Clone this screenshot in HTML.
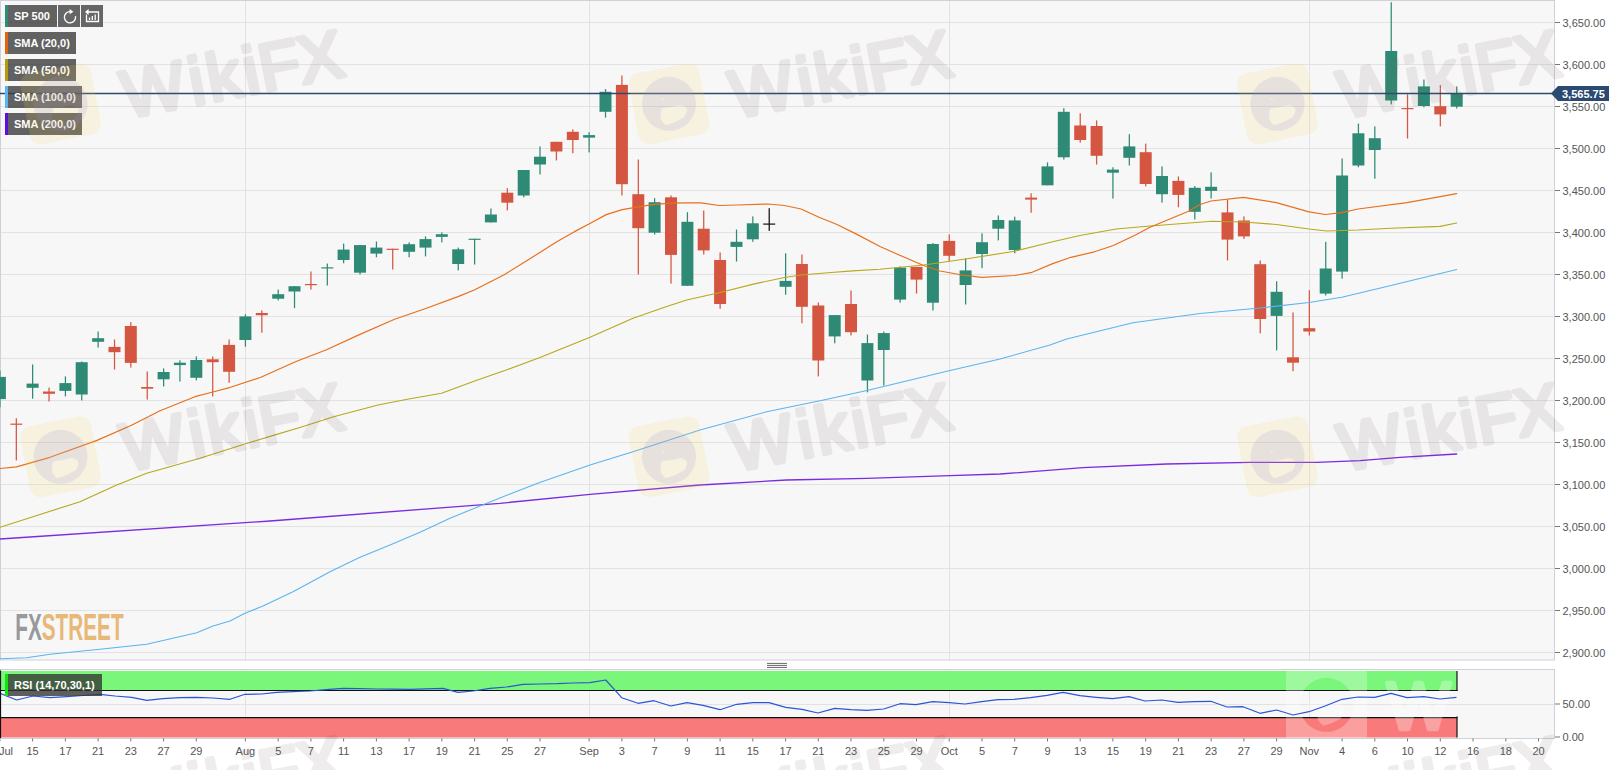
<!DOCTYPE html>
<html><head><meta charset="utf-8"><title>SP 500 chart</title>
<style>
html,body{margin:0;padding:0;background:#fff;}
body{width:1620px;height:770px;overflow:hidden;position:relative;font-family:"Liberation Sans",Arial,sans-serif;}
svg{position:absolute;left:0;top:0;display:block}
text{font-family:"Liberation Sans",Arial,sans-serif}
.ax{font-size:11px;fill:#555}
.lg{font-size:11px;font-weight:bold;fill:#fff}
</style></head><body>
<svg width="1620" height="770" viewBox="0 0 1620 770">
<defs>
<clipPath id="cpMain"><rect x="0" y="0" width="1555" height="660"/></clipPath>
<clipPath id="cpRsi"><rect x="0" y="669" width="1555" height="69.5"/></clipPath>
<g id="wm">
  <g transform="rotate(-11)">
    <rect x="-36" y="-36" width="72" height="72" rx="11" fill="#f5d060" fill-opacity="0.15"/>
  </g>
  <path fill="#9c96d4" fill-opacity="0.17" fill-rule="evenodd" d="M0 -27 A27 27 0 1 1 -0.01 -27 Z M-7 4.5 Q2 4 11 1.3 Q16 2 18.2 5.2 Q18 10 14.9 13.6 Q6 19 -3.2 21.4 Q-9 17 -8.4 11.7 Q-8.5 7 -7 4.5 Z M-7.5 -5.5 L-3.5 -4.8 L-6 -3.8 Z"/>
  <g opacity="0.108" transform="translate(66 14.5) rotate(-11)">
  <text x="0" y="0" dx="0 3 1.4 1.6 -1 -3" font-size="67" letter-spacing="2" fill="#6e5f5a" stroke="#6e5f5a" stroke-width="4.6" stroke-linejoin="round" stroke-linecap="round">WikiFX</text>
  </g>
</g>
</defs>

<rect x="0" y="0" width="1555" height="660" fill="#f7f7f7"/>
<line x1="0" y1="22.5" x2="1555" y2="22.5" stroke="#e2e2e2" stroke-width="1"/>
<line x1="0" y1="64.5" x2="1555" y2="64.5" stroke="#e2e2e2" stroke-width="1"/>
<line x1="0" y1="106.5" x2="1555" y2="106.5" stroke="#e2e2e2" stroke-width="1"/>
<line x1="0" y1="148.5" x2="1555" y2="148.5" stroke="#e2e2e2" stroke-width="1"/>
<line x1="0" y1="190.5" x2="1555" y2="190.5" stroke="#e2e2e2" stroke-width="1"/>
<line x1="0" y1="232.5" x2="1555" y2="232.5" stroke="#e2e2e2" stroke-width="1"/>
<line x1="0" y1="274.5" x2="1555" y2="274.5" stroke="#e2e2e2" stroke-width="1"/>
<line x1="0" y1="316.5" x2="1555" y2="316.5" stroke="#e2e2e2" stroke-width="1"/>
<line x1="0" y1="358.5" x2="1555" y2="358.5" stroke="#e2e2e2" stroke-width="1"/>
<line x1="0" y1="400.5" x2="1555" y2="400.5" stroke="#e2e2e2" stroke-width="1"/>
<line x1="0" y1="442.5" x2="1555" y2="442.5" stroke="#e2e2e2" stroke-width="1"/>
<line x1="0" y1="484.5" x2="1555" y2="484.5" stroke="#e2e2e2" stroke-width="1"/>
<line x1="0" y1="526.5" x2="1555" y2="526.5" stroke="#e2e2e2" stroke-width="1"/>
<line x1="0" y1="568.5" x2="1555" y2="568.5" stroke="#e2e2e2" stroke-width="1"/>
<line x1="0" y1="610.5" x2="1555" y2="610.5" stroke="#e2e2e2" stroke-width="1"/>
<line x1="0" y1="652.5" x2="1555" y2="652.5" stroke="#e2e2e2" stroke-width="1"/>
<line x1="245.5" y1="0" x2="245.5" y2="660" stroke="#e2e2e2" stroke-width="1"/>
<line x1="589.5" y1="0" x2="589.5" y2="660" stroke="#e2e2e2" stroke-width="1"/>
<line x1="949.5" y1="0" x2="949.5" y2="660" stroke="#e2e2e2" stroke-width="1"/>
<line x1="1309.5" y1="0" x2="1309.5" y2="660" stroke="#e2e2e2" stroke-width="1"/>
<rect x="0.5" y="0.5" width="1554" height="659.5" fill="none" stroke="#cfd0da" stroke-width="1"/>
<g clip-path="url(#cpMain)">
<rect x="-0.7" y="370.5" width="1.25" height="36.8" fill="#2f8a75"/>
<rect x="-6.1" y="376.9" width="12" height="22.2" fill="#2f8a75"/>
<rect x="15.7" y="418.3" width="1.25" height="42.1" fill="#d45640"/>
<rect x="10.3" y="423.6" width="12" height="1.2" fill="#d45640"/>
<rect x="32.0" y="364.5" width="1.25" height="34.2" fill="#2f8a75"/>
<rect x="26.6" y="383.6" width="12" height="4.2" fill="#2f8a75"/>
<rect x="48.4" y="387.6" width="1.25" height="13.9" fill="#d45640"/>
<rect x="43.0" y="391.5" width="12" height="2.3" fill="#d45640"/>
<rect x="64.8" y="376.4" width="1.25" height="20.0" fill="#2f8a75"/>
<rect x="59.4" y="383.1" width="12" height="7.8" fill="#2f8a75"/>
<rect x="81.1" y="361.5" width="1.25" height="38.9" fill="#2f8a75"/>
<rect x="75.7" y="362.2" width="12" height="32.3" fill="#2f8a75"/>
<rect x="97.5" y="331.5" width="1.25" height="16.1" fill="#2f8a75"/>
<rect x="92.1" y="338.2" width="12" height="3.6" fill="#2f8a75"/>
<rect x="113.9" y="339.5" width="1.25" height="30.0" fill="#d45640"/>
<rect x="108.5" y="346.9" width="12" height="5.3" fill="#d45640"/>
<rect x="130.2" y="322.2" width="1.25" height="45.4" fill="#d45640"/>
<rect x="124.8" y="326.0" width="12" height="36.9" fill="#d45640"/>
<rect x="146.6" y="371.5" width="1.25" height="28.1" fill="#d45640"/>
<rect x="141.2" y="387.0" width="12" height="1.7" fill="#d45640"/>
<rect x="163.0" y="368.4" width="1.25" height="18.1" fill="#2f8a75"/>
<rect x="157.6" y="372.0" width="12" height="7.3" fill="#2f8a75"/>
<rect x="179.3" y="360.4" width="1.25" height="21.1" fill="#2f8a75"/>
<rect x="173.9" y="362.7" width="12" height="2.4" fill="#2f8a75"/>
<rect x="195.7" y="356.4" width="1.25" height="24.0" fill="#2f8a75"/>
<rect x="190.3" y="360.0" width="12" height="17.8" fill="#2f8a75"/>
<rect x="212.1" y="356.4" width="1.25" height="40.0" fill="#d45640"/>
<rect x="206.7" y="359.3" width="12" height="2.9" fill="#d45640"/>
<rect x="228.5" y="339.5" width="1.25" height="43.2" fill="#d45640"/>
<rect x="223.1" y="344.9" width="12" height="26.9" fill="#d45640"/>
<rect x="244.8" y="314.2" width="1.25" height="32.5" fill="#2f8a75"/>
<rect x="239.4" y="316.4" width="12" height="23.6" fill="#2f8a75"/>
<rect x="261.2" y="310.4" width="1.25" height="22.3" fill="#d45640"/>
<rect x="255.8" y="313.0" width="12" height="2.2" fill="#d45640"/>
<rect x="277.6" y="289.6" width="1.25" height="10.8" fill="#2f8a75"/>
<rect x="272.2" y="294.2" width="12" height="4.5" fill="#2f8a75"/>
<rect x="293.9" y="286.2" width="1.25" height="22.0" fill="#2f8a75"/>
<rect x="288.5" y="286.2" width="12" height="5.3" fill="#2f8a75"/>
<rect x="310.3" y="271.5" width="1.25" height="18.1" fill="#d45640"/>
<rect x="304.9" y="284.0" width="12" height="1.2" fill="#d45640"/>
<rect x="326.7" y="263.6" width="1.25" height="21.9" fill="#2f8a75"/>
<rect x="321.3" y="267.3" width="12" height="1.2" fill="#2f8a75"/>
<rect x="343.0" y="243.6" width="1.25" height="19.7" fill="#2f8a75"/>
<rect x="337.6" y="249.6" width="12" height="10.4" fill="#2f8a75"/>
<rect x="359.4" y="245.1" width="1.25" height="29.4" fill="#2f8a75"/>
<rect x="354.0" y="245.1" width="12" height="27.6" fill="#2f8a75"/>
<rect x="375.8" y="241.5" width="1.25" height="15.8" fill="#2f8a75"/>
<rect x="370.4" y="247.6" width="12" height="6.0" fill="#2f8a75"/>
<rect x="392.1" y="248.7" width="1.25" height="20.8" fill="#d45640"/>
<rect x="386.7" y="248.7" width="12" height="1.2" fill="#d45640"/>
<rect x="408.5" y="242.4" width="1.25" height="14.9" fill="#2f8a75"/>
<rect x="403.1" y="244.2" width="12" height="7.6" fill="#2f8a75"/>
<rect x="424.9" y="236.4" width="1.25" height="20.0" fill="#2f8a75"/>
<rect x="419.5" y="239.1" width="12" height="8.5" fill="#2f8a75"/>
<rect x="441.2" y="232.4" width="1.25" height="10.0" fill="#2f8a75"/>
<rect x="435.8" y="234.2" width="12" height="2.7" fill="#2f8a75"/>
<rect x="457.6" y="247.6" width="1.25" height="22.8" fill="#2f8a75"/>
<rect x="452.2" y="249.3" width="12" height="14.7" fill="#2f8a75"/>
<rect x="474.0" y="238.7" width="1.25" height="25.8" fill="#2f8a75"/>
<rect x="468.6" y="238.7" width="12" height="1.2" fill="#2f8a75"/>
<rect x="490.3" y="208.5" width="1.25" height="13.9" fill="#2f8a75"/>
<rect x="484.9" y="214.5" width="12" height="7.9" fill="#2f8a75"/>
<rect x="506.7" y="188.2" width="1.25" height="22.2" fill="#d45640"/>
<rect x="501.3" y="192.7" width="12" height="10.0" fill="#d45640"/>
<rect x="523.1" y="170.0" width="1.25" height="27.3" fill="#2f8a75"/>
<rect x="517.7" y="170.0" width="12" height="25.5" fill="#2f8a75"/>
<rect x="539.4" y="146.4" width="1.25" height="28.1" fill="#2f8a75"/>
<rect x="534.0" y="156.7" width="12" height="7.8" fill="#2f8a75"/>
<rect x="555.8" y="141.8" width="1.25" height="18.6" fill="#d45640"/>
<rect x="550.4" y="141.8" width="12" height="9.7" fill="#d45640"/>
<rect x="572.2" y="129.5" width="1.25" height="23.8" fill="#d45640"/>
<rect x="566.8" y="131.8" width="12" height="8.2" fill="#d45640"/>
<rect x="588.5" y="132.2" width="1.25" height="20.2" fill="#2f8a75"/>
<rect x="583.1" y="135.1" width="12" height="2.5" fill="#2f8a75"/>
<rect x="604.9" y="89.1" width="1.25" height="28.5" fill="#2f8a75"/>
<rect x="599.5" y="91.8" width="12" height="20.0" fill="#2f8a75"/>
<rect x="621.3" y="75.5" width="1.25" height="120.0" fill="#d45640"/>
<rect x="615.9" y="84.9" width="12" height="99.3" fill="#d45640"/>
<rect x="637.7" y="159.5" width="1.25" height="115.0" fill="#d45640"/>
<rect x="632.3" y="194.2" width="12" height="34.0" fill="#d45640"/>
<rect x="654.0" y="198.2" width="1.25" height="36.3" fill="#2f8a75"/>
<rect x="648.6" y="202.2" width="12" height="30.5" fill="#2f8a75"/>
<rect x="670.4" y="195.5" width="1.25" height="88.1" fill="#d45640"/>
<rect x="665.0" y="197.3" width="12" height="57.6" fill="#d45640"/>
<rect x="686.8" y="212.2" width="1.25" height="73.6" fill="#2f8a75"/>
<rect x="681.4" y="221.8" width="12" height="64.0" fill="#2f8a75"/>
<rect x="703.1" y="210.5" width="1.25" height="44.0" fill="#d45640"/>
<rect x="697.7" y="228.7" width="12" height="21.7" fill="#d45640"/>
<rect x="719.5" y="252.4" width="1.25" height="56.3" fill="#d45640"/>
<rect x="714.1" y="260.0" width="12" height="44.0" fill="#d45640"/>
<rect x="735.9" y="229.5" width="1.25" height="32.0" fill="#2f8a75"/>
<rect x="730.5" y="241.8" width="12" height="5.1" fill="#2f8a75"/>
<rect x="752.2" y="216.4" width="1.25" height="25.4" fill="#2f8a75"/>
<rect x="746.8" y="223.3" width="12" height="16.0" fill="#2f8a75"/>
<rect x="768.6" y="208.2" width="1.25" height="22.7" fill="#111111"/>
<rect x="763.2" y="223.5" width="12" height="1.2" fill="#111111"/>
<rect x="785.0" y="253.3" width="1.25" height="41.4" fill="#2f8a75"/>
<rect x="779.6" y="280.9" width="12" height="5.9" fill="#2f8a75"/>
<rect x="801.3" y="254.5" width="1.25" height="68.8" fill="#d45640"/>
<rect x="795.9" y="264.0" width="12" height="42.8" fill="#d45640"/>
<rect x="817.7" y="302.5" width="1.25" height="73.9" fill="#d45640"/>
<rect x="812.3" y="305.5" width="12" height="55.0" fill="#d45640"/>
<rect x="834.1" y="315.1" width="1.25" height="28.2" fill="#2f8a75"/>
<rect x="828.7" y="315.1" width="12" height="21.3" fill="#2f8a75"/>
<rect x="850.4" y="290.5" width="1.25" height="45.0" fill="#d45640"/>
<rect x="845.0" y="304.0" width="12" height="28.2" fill="#d45640"/>
<rect x="866.8" y="334.5" width="1.25" height="57.9" fill="#2f8a75"/>
<rect x="861.4" y="343.1" width="12" height="37.4" fill="#2f8a75"/>
<rect x="883.2" y="331.5" width="1.25" height="54.0" fill="#2f8a75"/>
<rect x="877.8" y="333.1" width="12" height="16.9" fill="#2f8a75"/>
<rect x="899.5" y="266.4" width="1.25" height="36.3" fill="#2f8a75"/>
<rect x="894.1" y="267.6" width="12" height="32.0" fill="#2f8a75"/>
<rect x="915.9" y="266.9" width="1.25" height="26.7" fill="#d45640"/>
<rect x="910.5" y="266.9" width="12" height="12.7" fill="#d45640"/>
<rect x="932.3" y="243.0" width="1.25" height="67.5" fill="#2f8a75"/>
<rect x="926.9" y="244.0" width="12" height="58.7" fill="#2f8a75"/>
<rect x="948.6" y="234.5" width="1.25" height="26.5" fill="#d45640"/>
<rect x="943.2" y="240.9" width="12" height="14.9" fill="#d45640"/>
<rect x="965.0" y="258.5" width="1.25" height="46.0" fill="#2f8a75"/>
<rect x="959.6" y="270.4" width="12" height="14.6" fill="#2f8a75"/>
<rect x="981.4" y="233.3" width="1.25" height="34.9" fill="#2f8a75"/>
<rect x="976.0" y="242.2" width="12" height="11.8" fill="#2f8a75"/>
<rect x="997.7" y="215.5" width="1.25" height="24.9" fill="#2f8a75"/>
<rect x="992.3" y="220.0" width="12" height="8.7" fill="#2f8a75"/>
<rect x="1014.1" y="216.7" width="1.25" height="36.6" fill="#2f8a75"/>
<rect x="1008.7" y="220.4" width="12" height="29.6" fill="#2f8a75"/>
<rect x="1030.5" y="193.3" width="1.25" height="19.4" fill="#d45640"/>
<rect x="1025.1" y="197.6" width="12" height="2.0" fill="#d45640"/>
<rect x="1046.9" y="162.4" width="1.25" height="22.9" fill="#2f8a75"/>
<rect x="1041.5" y="166.4" width="12" height="18.9" fill="#2f8a75"/>
<rect x="1063.2" y="108.2" width="1.25" height="51.3" fill="#2f8a75"/>
<rect x="1057.8" y="111.8" width="12" height="45.5" fill="#2f8a75"/>
<rect x="1079.6" y="113.3" width="1.25" height="29.4" fill="#d45640"/>
<rect x="1074.2" y="125.5" width="12" height="14.5" fill="#d45640"/>
<rect x="1096.0" y="120.4" width="1.25" height="44.1" fill="#d45640"/>
<rect x="1090.6" y="126.0" width="12" height="29.8" fill="#d45640"/>
<rect x="1112.3" y="167.3" width="1.25" height="31.3" fill="#2f8a75"/>
<rect x="1106.9" y="169.6" width="12" height="3.1" fill="#2f8a75"/>
<rect x="1128.7" y="134.2" width="1.25" height="31.3" fill="#2f8a75"/>
<rect x="1123.3" y="146.4" width="12" height="11.4" fill="#2f8a75"/>
<rect x="1145.1" y="143.6" width="1.25" height="42.8" fill="#d45640"/>
<rect x="1139.7" y="152.2" width="12" height="31.8" fill="#d45640"/>
<rect x="1161.4" y="166.4" width="1.25" height="36.3" fill="#2f8a75"/>
<rect x="1156.0" y="176.0" width="12" height="18.2" fill="#2f8a75"/>
<rect x="1177.8" y="176.4" width="1.25" height="30.9" fill="#d45640"/>
<rect x="1172.4" y="180.9" width="12" height="14.0" fill="#d45640"/>
<rect x="1194.2" y="186.0" width="1.25" height="33.5" fill="#2f8a75"/>
<rect x="1188.8" y="187.8" width="12" height="24.0" fill="#2f8a75"/>
<rect x="1210.5" y="172.4" width="1.25" height="26.1" fill="#2f8a75"/>
<rect x="1205.1" y="186.8" width="12" height="4.1" fill="#2f8a75"/>
<rect x="1226.9" y="199.6" width="1.25" height="60.8" fill="#d45640"/>
<rect x="1221.5" y="212.4" width="12" height="27.2" fill="#d45640"/>
<rect x="1243.3" y="216.4" width="1.25" height="22.6" fill="#d45640"/>
<rect x="1237.9" y="220.5" width="12" height="15.9" fill="#d45640"/>
<rect x="1259.6" y="260.4" width="1.25" height="72.9" fill="#d45640"/>
<rect x="1254.2" y="264.2" width="12" height="54.8" fill="#d45640"/>
<rect x="1276.0" y="281.3" width="1.25" height="69.1" fill="#2f8a75"/>
<rect x="1270.6" y="291.8" width="12" height="24.1" fill="#2f8a75"/>
<rect x="1292.4" y="312.4" width="1.25" height="58.9" fill="#d45640"/>
<rect x="1287.0" y="357.3" width="12" height="5.4" fill="#d45640"/>
<rect x="1308.7" y="290.2" width="1.25" height="45.3" fill="#d45640"/>
<rect x="1303.3" y="328.2" width="12" height="3.3" fill="#d45640"/>
<rect x="1325.1" y="241.8" width="1.25" height="53.7" fill="#2f8a75"/>
<rect x="1319.7" y="268.5" width="12" height="25.1" fill="#2f8a75"/>
<rect x="1341.5" y="158.5" width="1.25" height="120.2" fill="#2f8a75"/>
<rect x="1336.1" y="175.5" width="12" height="96.1" fill="#2f8a75"/>
<rect x="1357.8" y="123.6" width="1.25" height="43.7" fill="#2f8a75"/>
<rect x="1352.4" y="133.3" width="12" height="32.2" fill="#2f8a75"/>
<rect x="1374.2" y="126.4" width="1.25" height="52.3" fill="#2f8a75"/>
<rect x="1368.8" y="138.2" width="12" height="11.8" fill="#2f8a75"/>
<rect x="1390.6" y="2.2" width="1.25" height="102.2" fill="#2f8a75"/>
<rect x="1385.2" y="51.0" width="12" height="49.5" fill="#2f8a75"/>
<rect x="1406.9" y="94.3" width="1.25" height="44.2" fill="#d45640"/>
<rect x="1401.5" y="108.0" width="12" height="1.2" fill="#d45640"/>
<rect x="1423.3" y="79.6" width="1.25" height="27.7" fill="#2f8a75"/>
<rect x="1417.9" y="86.4" width="12" height="19.6" fill="#2f8a75"/>
<rect x="1439.7" y="85.2" width="1.25" height="41.2" fill="#d45640"/>
<rect x="1434.3" y="106.2" width="12" height="8.2" fill="#d45640"/>
<rect x="1456.1" y="86.4" width="1.25" height="22.1" fill="#2f8a75"/>
<rect x="1450.7" y="93.6" width="12" height="13.1" fill="#2f8a75"/>
</g>
<g clip-path="url(#cpMain)" fill="none" stroke-linejoin="round" stroke-linecap="round">
<polyline points="0.0,539.0 245.0,522.7 270.0,521.0 500.0,503.3 590.0,494.3 700.0,485.0 786.7,480.0 866.7,478.3 950.0,475.7 1000.0,474.0 1083.0,467.7 1166.7,464.0 1250.0,462.3 1316.7,462.3 1360.0,460.7 1400.0,457.3 1456.7,454.0" stroke="#7a2be2" stroke-width="1.3"/>
<polyline points="0.0,658.7 26.7,657.7 50.0,654.3 100.0,649.3 146.7,644.3 196.7,632.7 213.0,626.0 230.0,621.0 245.0,613.3 263.0,606.0 293.0,591.7 330.0,571.7 360.0,557.3 390.0,545.0 420.0,532.3 450.0,518.3 480.0,506.0 510.0,494.0 539.0,482.7 590.0,465.0 633.0,451.7 700.0,430.0 766.7,411.7 823.6,400.0 867.0,390.6 950.0,370.5 1000.0,359.0 1050.0,345.0 1066.7,339.0 1133.0,322.7 1200.0,313.5 1260.0,308.0 1309.0,302.5 1341.8,297.3 1391.0,285.5 1456.7,269.5" stroke="#5ab4f0" stroke-width="1.05"/>
<polyline points="0.0,527.3 33.0,516.7 80.0,501.7 116.7,485.0 146.7,473.3 200.0,458.3 245.6,443.8 270.0,436.4 300.7,427.2 333.6,416.7 378.0,405.0 408.7,399.0 441.5,393.2 476.7,380.3 507.0,369.8 540.0,357.5 590.0,337.3 633.0,318.3 664.5,307.3 686.7,300.0 719.0,292.7 755.5,283.6 784.5,277.5 801.0,275.0 828.0,272.7 852.7,270.9 880.0,269.3 923.6,265.0 965.5,259.0 1014.5,251.3 1052.7,241.8 1080.0,235.5 1116.0,229.0 1150.0,226.0 1157.0,225.5 1212.0,221.3 1243.6,222.0 1276.4,224.5 1309.0,229.0 1327.0,231.0 1358.0,230.0 1391.0,228.2 1440.0,226.4 1456.7,223.0" stroke="#b8a81e" stroke-width="1.15"/>
<polyline points="0.0,468.5 16.5,466.8 50.0,457.3 97.0,440.4 131.0,425.5 160.0,410.8 195.0,396.7 212.8,392.0 230.4,387.3 260.9,377.3 296.0,361.5 326.5,349.8 359.4,334.6 394.6,319.3 425.0,308.8 458.0,296.6 474.3,290.0 503.7,275.0 524.7,262.1 556.8,241.7 574.0,231.9 589.5,223.8 606.2,214.6 622.2,209.6 638.3,206.9 654.3,204.3 671.6,203.2 687.7,202.8 701.0,202.8 719.0,205.5 737.0,205.0 768.0,204.0 784.5,205.5 801.0,209.0 819.0,217.3 837.0,224.5 855.5,233.6 880.0,246.5 898.0,254.5 923.6,265.5 940.0,271.0 962.0,275.0 982.0,277.3 1014.5,275.5 1031.0,272.7 1052.7,263.6 1071.0,257.3 1094.5,251.8 1112.7,245.8 1134.5,235.5 1150.0,227.3 1188.0,211.5 1200.0,204.5 1211.0,201.0 1243.6,197.3 1276.4,202.7 1309.0,211.8 1325.5,214.5 1341.8,212.7 1358.0,209.0 1407.0,202.7 1456.7,193.6" stroke="#e8701a" stroke-width="1.2"/>
</g>
<line x1="0" y1="93.5" x2="1555" y2="93.5" stroke="#2b4a6e" stroke-width="1.3"/>
<line x1="1555" y1="22.5" x2="1560" y2="22.5" stroke="#777" stroke-width="1"/>
<text class="ax" x="1562.5" y="26.5">3,650.00</text>
<line x1="1555" y1="64.5" x2="1560" y2="64.5" stroke="#777" stroke-width="1"/>
<text class="ax" x="1562.5" y="68.5">3,600.00</text>
<line x1="1555" y1="106.5" x2="1560" y2="106.5" stroke="#777" stroke-width="1"/>
<text class="ax" x="1562.5" y="110.5">3,550.00</text>
<line x1="1555" y1="148.5" x2="1560" y2="148.5" stroke="#777" stroke-width="1"/>
<text class="ax" x="1562.5" y="152.5">3,500.00</text>
<line x1="1555" y1="190.5" x2="1560" y2="190.5" stroke="#777" stroke-width="1"/>
<text class="ax" x="1562.5" y="194.5">3,450.00</text>
<line x1="1555" y1="232.5" x2="1560" y2="232.5" stroke="#777" stroke-width="1"/>
<text class="ax" x="1562.5" y="236.5">3,400.00</text>
<line x1="1555" y1="274.5" x2="1560" y2="274.5" stroke="#777" stroke-width="1"/>
<text class="ax" x="1562.5" y="278.5">3,350.00</text>
<line x1="1555" y1="316.5" x2="1560" y2="316.5" stroke="#777" stroke-width="1"/>
<text class="ax" x="1562.5" y="320.5">3,300.00</text>
<line x1="1555" y1="358.5" x2="1560" y2="358.5" stroke="#777" stroke-width="1"/>
<text class="ax" x="1562.5" y="362.5">3,250.00</text>
<line x1="1555" y1="400.5" x2="1560" y2="400.5" stroke="#777" stroke-width="1"/>
<text class="ax" x="1562.5" y="404.5">3,200.00</text>
<line x1="1555" y1="442.5" x2="1560" y2="442.5" stroke="#777" stroke-width="1"/>
<text class="ax" x="1562.5" y="446.5">3,150.00</text>
<line x1="1555" y1="484.5" x2="1560" y2="484.5" stroke="#777" stroke-width="1"/>
<text class="ax" x="1562.5" y="488.5">3,100.00</text>
<line x1="1555" y1="526.5" x2="1560" y2="526.5" stroke="#777" stroke-width="1"/>
<text class="ax" x="1562.5" y="530.5">3,050.00</text>
<line x1="1555" y1="568.5" x2="1560" y2="568.5" stroke="#777" stroke-width="1"/>
<text class="ax" x="1562.5" y="572.5">3,000.00</text>
<line x1="1555" y1="610.5" x2="1560" y2="610.5" stroke="#777" stroke-width="1"/>
<text class="ax" x="1562.5" y="614.5">2,950.00</text>
<line x1="1555" y1="652.5" x2="1560" y2="652.5" stroke="#777" stroke-width="1"/>
<text class="ax" x="1562.5" y="656.5">2,900.00</text>
<path d="M1551 93.5 L1558 86 H1609 V101 H1558 Z" fill="#2b4a72"/>
<text x="1562" y="97.5" font-size="11" font-weight="bold" fill="#fff">3,565.75</text>
<rect x="5" y="5" width="52" height="22" fill="#3c3c3c" fill-opacity="0.8"/>
<rect x="5" y="5" width="3" height="22" fill="#2e8b76"/>
<text class="lg" x="14" y="20">SP 500</text>
<rect x="58" y="5" width="22" height="22" fill="#666"/>
<rect x="81" y="5" width="22" height="22" fill="#666"/>
<path d="M70.2 11.6 A5.6 5.6 0 1 0 75.5 16.2" fill="none" stroke="#fff" stroke-width="1.3"/>
<path d="M69.6 9 L73.4 11.8 L69.6 14.2 Z" fill="#fff"/>
<path d="M87 12 H98.5 V21.5 H86.5 V14.5" fill="none" stroke="#fff" stroke-width="1.3"/>
<path d="M85 12 L88.6 9 V15 Z" fill="#fff"/>
<path d="M89.5 20 V17.5 M92.3 20 V16 M95.2 20 V14.5" fill="none" stroke="#fff" stroke-width="1.3"/>
<rect x="5" y="32" width="71" height="22" fill="#3c3c3c" fill-opacity="0.8"/>
<rect x="5" y="32" width="3" height="22" fill="#e0650f"/>
<text class="lg" x="14" y="47">SMA (20,0)</text>
<rect x="5" y="59" width="71" height="22" fill="#3c3c3c" fill-opacity="0.8"/>
<rect x="5" y="59" width="3" height="22" fill="#b59a0a"/>
<text class="lg" x="14" y="74">SMA (50,0)</text>
<rect x="5" y="86" width="77" height="22" fill="#3c3c3c" fill-opacity="0.8"/>
<rect x="5" y="86" width="3" height="22" fill="#5ab4f0"/>
<text class="lg" x="14" y="101">SMA (100,0)</text>
<rect x="5" y="113" width="77" height="22" fill="#3c3c3c" fill-opacity="0.8"/>
<rect x="5" y="113" width="3" height="22" fill="#5a0ee0"/>
<text class="lg" x="14" y="128">SMA (200,0)</text>
<g transform="translate(15.3 640.4) scale(0.556 1)"><text x="0" y="0" font-size="37.3" font-weight="bold"><tspan fill="#96999d">FX</tspan><tspan fill="#e8b878">STREET</tspan></text></g>
<line x1="767" y1="663.4" x2="787" y2="663.4" stroke="#666" stroke-width="1"/>
<line x1="767" y1="665.4" x2="787" y2="665.4" stroke="#666" stroke-width="1"/>
<line x1="767" y1="667.4" x2="787" y2="667.4" stroke="#666" stroke-width="1"/>
<rect x="0" y="669" width="1555" height="69.5" fill="#f7f7f7"/>
<line x1="245.5" y1="669" x2="245.5" y2="738.5" stroke="#e2e2e2" stroke-width="1"/>
<line x1="589.5" y1="669" x2="589.5" y2="738.5" stroke="#e2e2e2" stroke-width="1"/>
<line x1="949.5" y1="669" x2="949.5" y2="738.5" stroke="#e2e2e2" stroke-width="1"/>
<line x1="1309.5" y1="669" x2="1309.5" y2="738.5" stroke="#e2e2e2" stroke-width="1"/>
<line x1="0" y1="704.5" x2="1555" y2="704.5" stroke="#e2e2e2" stroke-width="1"/>
<rect x="0" y="671" width="1457" height="19.5" fill="#7af77a"/>
<rect x="0" y="717.5" width="1457" height="20" fill="#f87a7a"/>
<line x1="0" y1="690.5" x2="1457.5" y2="690.5" stroke="#111" stroke-width="1.2"/>
<line x1="0" y1="717.6" x2="1457.5" y2="717.6" stroke="#111" stroke-width="1.2"/>
<line x1="1457" y1="671" x2="1457" y2="691" stroke="#111" stroke-width="1.2"/>
<line x1="1457" y1="716.5" x2="1457" y2="737.5" stroke="#111" stroke-width="1.2"/>
<g clip-path="url(#cpRsi)">
<path fill="#fff" fill-opacity="0.27" fill-rule="evenodd" transform="translate(1326.5 704.8)" d="M-40.5 -29.5 Q-40.5 -40.5 -29.5 -40.5 H29.5 Q40.5 -40.5 40.5 -29.5 V29.5 Q40.5 40.5 29.5 40.5 H-29.5 Q-40.5 40.5 -40.5 29.5 Z M0 -27 A27 27 0 1 1 -0.01 -27 Z M-19 -3 Q-2 -5 12 -2 Q18 1 18 6 Q17 11 14 14 Q6 19 -3 21 Q-9 17 -9 11 Q-9 7 -19 5 Z"/>
<g opacity="0.3"><text x="1387" y="729" font-size="67" fill="#fff" stroke="#fff" stroke-width="4.6" stroke-linejoin="round">W</text></g>
</g>
<polyline points="0.0,693.3 16.7,700.0 33.0,696.0 50.0,697.7 66.7,696.7 83.0,695.5 100.0,694.3 115.0,696.0 131.7,697.3 146.7,700.3 163.0,698.7 180.0,697.7 196.7,697.3 213.0,698.0 230.0,699.3 245.0,694.3 261.7,694.0 276.7,692.3 293.0,691.7 310.0,691.0 326.0,689.7 343.0,688.3 360.0,688.7 376.7,689.0 393.0,689.2 410.0,689.3 426.0,688.8 443.0,688.3 458.0,692.3 473.0,691.0 490.0,688.3 506.7,687.0 523.0,684.3 540.0,684.0 556.7,683.7 573.0,683.0 590.0,682.7 605.7,680.0 621.7,697.7 638.0,703.3 654.0,700.7 670.7,706.0 687.0,702.7 703.0,705.3 720.0,709.7 736.7,704.3 753.0,702.7 769.0,702.7 785.7,707.3 802.0,709.3 818.0,713.0 834.7,708.3 851.0,709.7 867.0,710.3 883.7,709.0 900.0,703.7 916.0,704.7 932.7,701.7 949.0,702.7 965.0,704.0 981.7,701.7 998.0,699.7 1014.0,699.3 1030.7,697.7 1047.0,695.3 1063.0,692.3 1080.0,695.7 1096.0,697.3 1112.7,698.7 1129.0,696.7 1145.0,701.0 1161.7,700.0 1178.0,702.3 1194.0,701.7 1210.7,701.3 1227.0,707.0 1243.0,706.7 1260.0,713.3 1276.7,710.0 1293.0,715.0 1309.0,711.7 1325.7,705.7 1342.0,699.3 1358.0,697.0 1374.7,697.3 1391.0,693.3 1407.0,697.7 1424.0,696.7 1440.0,699.0 1456.5,697.3" fill="none" stroke="#2a55d8" stroke-width="1.2" stroke-linejoin="round"/>
<rect x="0.5" y="669.5" width="1554" height="69.0" fill="none" stroke="#cfd0da" stroke-width="1"/>
<line x1="0.5" y1="670.5" x2="0.5" y2="738" stroke="#111" stroke-width="1.2"/>
<rect x="5" y="674" width="97" height="22" fill="#333" fill-opacity="0.78"/>
<rect x="5" y="674" width="3" height="22" fill="#0fe60f"/>
<text class="lg" x="14" y="689">RSI (14,70,30,1)</text>
<line x1="1555" y1="704" x2="1560" y2="704" stroke="#777" stroke-width="1"/>
<text class="ax" x="1562.5" y="708">50.00</text>
<line x1="1555" y1="737" x2="1560" y2="737" stroke="#777" stroke-width="1"/>
<text class="ax" x="1562.5" y="741">0.00</text>
<line x1="-0.1" y1="738.5" x2="-0.1" y2="741.5" stroke="#777" stroke-width="1"/>
<text class="ax" x="-1" y="755">Jul</text>
<line x1="32.6" y1="738.5" x2="32.6" y2="741.5" stroke="#777" stroke-width="1"/>
<text class="ax" x="32.6" y="755" text-anchor="middle">15</text>
<line x1="65.4" y1="738.5" x2="65.4" y2="741.5" stroke="#777" stroke-width="1"/>
<text class="ax" x="65.4" y="755" text-anchor="middle">17</text>
<line x1="98.1" y1="738.5" x2="98.1" y2="741.5" stroke="#777" stroke-width="1"/>
<text class="ax" x="98.1" y="755" text-anchor="middle">21</text>
<line x1="130.8" y1="738.5" x2="130.8" y2="741.5" stroke="#777" stroke-width="1"/>
<text class="ax" x="130.8" y="755" text-anchor="middle">23</text>
<line x1="163.6" y1="738.5" x2="163.6" y2="741.5" stroke="#777" stroke-width="1"/>
<text class="ax" x="163.6" y="755" text-anchor="middle">27</text>
<line x1="196.3" y1="738.5" x2="196.3" y2="741.5" stroke="#777" stroke-width="1"/>
<text class="ax" x="196.3" y="755" text-anchor="middle">29</text>
<line x1="245.4" y1="738.5" x2="245.4" y2="741.5" stroke="#777" stroke-width="1"/>
<text class="ax" x="245.4" y="755" text-anchor="middle">Aug</text>
<line x1="278.2" y1="738.5" x2="278.2" y2="741.5" stroke="#777" stroke-width="1"/>
<text class="ax" x="278.2" y="755" text-anchor="middle">5</text>
<line x1="310.9" y1="738.5" x2="310.9" y2="741.5" stroke="#777" stroke-width="1"/>
<text class="ax" x="310.9" y="755" text-anchor="middle">7</text>
<line x1="343.6" y1="738.5" x2="343.6" y2="741.5" stroke="#777" stroke-width="1"/>
<text class="ax" x="343.6" y="755" text-anchor="middle">11</text>
<line x1="376.4" y1="738.5" x2="376.4" y2="741.5" stroke="#777" stroke-width="1"/>
<text class="ax" x="376.4" y="755" text-anchor="middle">13</text>
<line x1="409.1" y1="738.5" x2="409.1" y2="741.5" stroke="#777" stroke-width="1"/>
<text class="ax" x="409.1" y="755" text-anchor="middle">17</text>
<line x1="441.8" y1="738.5" x2="441.8" y2="741.5" stroke="#777" stroke-width="1"/>
<text class="ax" x="441.8" y="755" text-anchor="middle">19</text>
<line x1="474.6" y1="738.5" x2="474.6" y2="741.5" stroke="#777" stroke-width="1"/>
<text class="ax" x="474.6" y="755" text-anchor="middle">21</text>
<line x1="507.3" y1="738.5" x2="507.3" y2="741.5" stroke="#777" stroke-width="1"/>
<text class="ax" x="507.3" y="755" text-anchor="middle">25</text>
<line x1="540.0" y1="738.5" x2="540.0" y2="741.5" stroke="#777" stroke-width="1"/>
<text class="ax" x="540.0" y="755" text-anchor="middle">27</text>
<line x1="589.1" y1="738.5" x2="589.1" y2="741.5" stroke="#777" stroke-width="1"/>
<text class="ax" x="589.1" y="755" text-anchor="middle">Sep</text>
<line x1="621.9" y1="738.5" x2="621.9" y2="741.5" stroke="#777" stroke-width="1"/>
<text class="ax" x="621.9" y="755" text-anchor="middle">3</text>
<line x1="654.6" y1="738.5" x2="654.6" y2="741.5" stroke="#777" stroke-width="1"/>
<text class="ax" x="654.6" y="755" text-anchor="middle">7</text>
<line x1="687.4" y1="738.5" x2="687.4" y2="741.5" stroke="#777" stroke-width="1"/>
<text class="ax" x="687.4" y="755" text-anchor="middle">9</text>
<line x1="720.1" y1="738.5" x2="720.1" y2="741.5" stroke="#777" stroke-width="1"/>
<text class="ax" x="720.1" y="755" text-anchor="middle">11</text>
<line x1="752.8" y1="738.5" x2="752.8" y2="741.5" stroke="#777" stroke-width="1"/>
<text class="ax" x="752.8" y="755" text-anchor="middle">15</text>
<line x1="785.6" y1="738.5" x2="785.6" y2="741.5" stroke="#777" stroke-width="1"/>
<text class="ax" x="785.6" y="755" text-anchor="middle">17</text>
<line x1="818.3" y1="738.5" x2="818.3" y2="741.5" stroke="#777" stroke-width="1"/>
<text class="ax" x="818.3" y="755" text-anchor="middle">21</text>
<line x1="851.0" y1="738.5" x2="851.0" y2="741.5" stroke="#777" stroke-width="1"/>
<text class="ax" x="851.0" y="755" text-anchor="middle">23</text>
<line x1="883.8" y1="738.5" x2="883.8" y2="741.5" stroke="#777" stroke-width="1"/>
<text class="ax" x="883.8" y="755" text-anchor="middle">25</text>
<line x1="916.5" y1="738.5" x2="916.5" y2="741.5" stroke="#777" stroke-width="1"/>
<text class="ax" x="916.5" y="755" text-anchor="middle">29</text>
<line x1="949.2" y1="738.5" x2="949.2" y2="741.5" stroke="#777" stroke-width="1"/>
<text class="ax" x="949.2" y="755" text-anchor="middle">Oct</text>
<line x1="982.0" y1="738.5" x2="982.0" y2="741.5" stroke="#777" stroke-width="1"/>
<text class="ax" x="982.0" y="755" text-anchor="middle">5</text>
<line x1="1014.7" y1="738.5" x2="1014.7" y2="741.5" stroke="#777" stroke-width="1"/>
<text class="ax" x="1014.7" y="755" text-anchor="middle">7</text>
<line x1="1047.5" y1="738.5" x2="1047.5" y2="741.5" stroke="#777" stroke-width="1"/>
<text class="ax" x="1047.5" y="755" text-anchor="middle">9</text>
<line x1="1080.2" y1="738.5" x2="1080.2" y2="741.5" stroke="#777" stroke-width="1"/>
<text class="ax" x="1080.2" y="755" text-anchor="middle">13</text>
<line x1="1112.9" y1="738.5" x2="1112.9" y2="741.5" stroke="#777" stroke-width="1"/>
<text class="ax" x="1112.9" y="755" text-anchor="middle">15</text>
<line x1="1145.7" y1="738.5" x2="1145.7" y2="741.5" stroke="#777" stroke-width="1"/>
<text class="ax" x="1145.7" y="755" text-anchor="middle">19</text>
<line x1="1178.4" y1="738.5" x2="1178.4" y2="741.5" stroke="#777" stroke-width="1"/>
<text class="ax" x="1178.4" y="755" text-anchor="middle">21</text>
<line x1="1211.1" y1="738.5" x2="1211.1" y2="741.5" stroke="#777" stroke-width="1"/>
<text class="ax" x="1211.1" y="755" text-anchor="middle">23</text>
<line x1="1243.9" y1="738.5" x2="1243.9" y2="741.5" stroke="#777" stroke-width="1"/>
<text class="ax" x="1243.9" y="755" text-anchor="middle">27</text>
<line x1="1276.6" y1="738.5" x2="1276.6" y2="741.5" stroke="#777" stroke-width="1"/>
<text class="ax" x="1276.6" y="755" text-anchor="middle">29</text>
<line x1="1309.3" y1="738.5" x2="1309.3" y2="741.5" stroke="#777" stroke-width="1"/>
<text class="ax" x="1309.3" y="755" text-anchor="middle">Nov</text>
<line x1="1342.1" y1="738.5" x2="1342.1" y2="741.5" stroke="#777" stroke-width="1"/>
<text class="ax" x="1342.1" y="755" text-anchor="middle">4</text>
<line x1="1374.8" y1="738.5" x2="1374.8" y2="741.5" stroke="#777" stroke-width="1"/>
<text class="ax" x="1374.8" y="755" text-anchor="middle">6</text>
<line x1="1407.5" y1="738.5" x2="1407.5" y2="741.5" stroke="#777" stroke-width="1"/>
<text class="ax" x="1407.5" y="755" text-anchor="middle">10</text>
<line x1="1440.3" y1="738.5" x2="1440.3" y2="741.5" stroke="#777" stroke-width="1"/>
<text class="ax" x="1440.3" y="755" text-anchor="middle">12</text>
<line x1="1473.0" y1="738.5" x2="1473.0" y2="741.5" stroke="#777" stroke-width="1"/>
<text class="ax" x="1473.0" y="755" text-anchor="middle">16</text>
<line x1="1505.8" y1="738.5" x2="1505.8" y2="741.5" stroke="#777" stroke-width="1"/>
<text class="ax" x="1505.8" y="755" text-anchor="middle">18</text>
<line x1="1538.5" y1="738.5" x2="1538.5" y2="741.5" stroke="#777" stroke-width="1"/>
<text class="ax" x="1538.5" y="755" text-anchor="middle">20</text>
<use href="#wm" x="60.5" y="103.8"/>
<use href="#wm" x="669" y="103.8"/>
<use href="#wm" x="1277.5" y="103.8"/>
<use href="#wm" x="60.5" y="456.8"/>
<use href="#wm" x="669" y="456.8"/>
<use href="#wm" x="1277.5" y="456.8"/>
<use href="#wm" x="60.5" y="809.8"/>
<use href="#wm" x="669" y="809.8"/>
<use href="#wm" x="1277.5" y="809.8"/>
</svg></body></html>
